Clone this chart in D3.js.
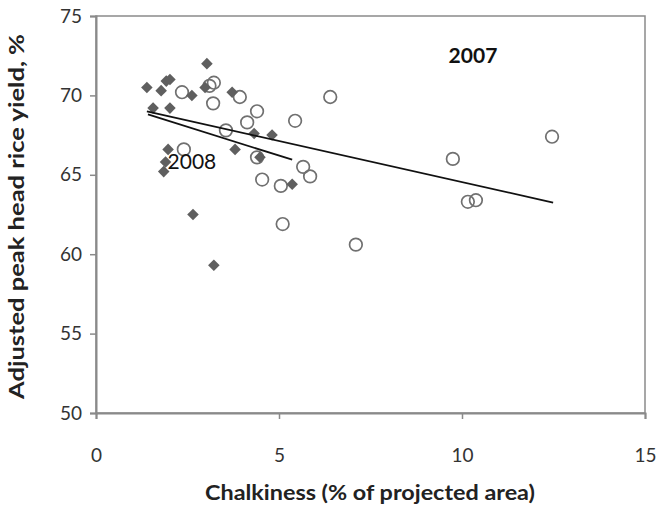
<!DOCTYPE html>
<html><head><meta charset="utf-8">
<script src="https://cdn.jsdelivr.net/npm/d3@7"></script>
<style>body{margin:0;background:#fff;} svg{display:block;}</style>
</head><body>
<script>
// 2008 (filled diamonds): chalkiness %, yield %
const x2008 = [1.39, 1.78, 1.92, 2.02, 3.03, 2.98, 3.72, 2.62, 1.56, 2.02, 1.97, 1.90, 1.85, 4.32, 4.81, 3.80, 4.48, 5.36, 2.65, 3.22];
const y2008 = [70.5, 70.3, 70.9, 71.0, 72.0, 70.5, 70.2, 70.0, 69.2, 69.2, 66.6, 65.8, 65.2, 67.6, 67.5, 66.6, 66.1, 64.4, 62.5, 59.3];
// 2007 (open circles)
const x2007 = [2.35, 3.10, 3.22, 3.20, 3.93, 4.40, 4.13, 5.44, 3.55, 2.40, 4.40, 5.66, 5.85, 4.54, 5.05, 5.10, 7.10, 6.40, 9.75, 10.16, 10.38, 12.46];
const y2007 = [70.2, 70.6, 70.8, 69.5, 69.9, 69.0, 68.3, 68.4, 67.8, 66.6, 66.1, 65.5, 64.9, 64.7, 64.3, 61.9, 60.6, 69.9, 66.0, 63.3, 63.4, 67.4];
// trend lines (endpoints)
const trend2007X = [1.39, 12.49], trend2007Y = [69.0, 63.25];
const trend2008X = [1.42, 5.36], trend2008Y = [68.8, 65.95];
const xTicks = [0, 5, 10, 15];
const yTicks = [50, 55, 60, 65, 70, 75];
const seriesLabels = [{text:"2007", x:10.3, y:72.5, bold:true}, {text:"2008", x:2.62, y:65.8, bold:false}];

const W = 660, H = 506;
const m = {l:96, r:15, t:16, b:93};
const svg = d3.select("body").append("svg").attr("width", W).attr("height", H);
const x = d3.scaleLinear().domain([0, 15]).range([m.l, W - m.r]);
const y = d3.scaleLinear().domain([50, 75]).range([H - m.b, m.t]);
const font = "Lato, 'Open Sans', sans-serif";

// plot border
svg.append("rect").attr("x", x(0)).attr("y", y(75)).attr("width", x(15)-x(0)).attr("height", y(50)-y(75))
  .attr("fill", "none").attr("stroke", "#8a8a8a").attr("stroke-width", 1.5);

const ax = svg.append("g").attr("transform", `translate(0,${y(50)})`)
  .call(d3.axisBottom(x).tickValues(xTicks).tickSize(6).tickPadding(30));
const ay = svg.append("g").attr("transform", `translate(${x(0)},0)`)
  .call(d3.axisLeft(y).tickValues(yTicks).tickSize(6).tickPadding(8));
[ax, ay].forEach(g => {
  g.select(".domain").attr("stroke", "#8a8a8a").attr("stroke-width", 2);
  g.selectAll(".tick line").attr("stroke", "#8a8a8a").attr("stroke-width", 1.5);
  g.selectAll(".tick text").attr("font-family", font).attr("font-size", 19).attr("fill", "#333");
});

// axis titles
svg.append("text").attr("x", 370).attr("y", 500).attr("text-anchor", "middle")
  .attr("font-family", font).attr("font-weight", "bold").attr("font-size", 21).attr("fill", "#222")
  .attr("textLength", 330).attr("lengthAdjust", "spacingAndGlyphs")
  .text("Chalkiness (% of projected area)");
svg.append("text").attr("transform", `translate(24,${(y(50)+y(75))/2 + 2}) rotate(-90)`).attr("text-anchor", "middle")
  .attr("font-family", font).attr("font-weight", "bold").attr("font-size", 21).attr("fill", "#222")
  .attr("textLength", 365).attr("lengthAdjust", "spacingAndGlyphs")
  .text("Adjusted peak head rice yield, %");

// 2007 circles
const d07 = x2007.map((v, i) => ({x: v, y: y2007[i]}));
svg.append("g").selectAll("circle").data(d07).enter().append("circle")
  .attr("cx", d => x(d.x)).attr("cy", d => y(d.y)).attr("r", 6.3)
  .attr("fill", "none").attr("stroke", "#707070").attr("stroke-width", 1.7);

// 2008 diamonds
const d08 = x2008.map((v, i) => ({x: v, y: y2008[i]}));
svg.append("g").selectAll("path").data(d08).enter().append("path")
  .attr("d", d3.symbol().type(d3.symbolDiamond2).size(85))
  .attr("transform", d => `translate(${x(d.x)},${y(d.y)})`)
  .attr("fill", "#5f5f5f");

// trend lines
const line = d3.line().x(d => x(d[0])).y(d => y(d[1]));
svg.append("path").attr("d", line(trend2007X.map((v,i)=>[v, trend2007Y[i]])))
  .attr("stroke", "#111").attr("stroke-width", 1.8).attr("fill", "none");
svg.append("path").attr("d", line(trend2008X.map((v,i)=>[v, trend2008Y[i]])))
  .attr("stroke", "#111").attr("stroke-width", 1.8).attr("fill", "none");

// series labels
svg.append("g").selectAll("text").data(seriesLabels).enter().append("text")
  .attr("x", d => x(d.x)).attr("y", d => y(d.y)).attr("text-anchor", "middle").attr("dy", "0.35em")
  .attr("font-family", font).attr("font-size", 21).attr("font-weight", d => d.bold ? "bold" : "normal")
  .attr("fill", "#111").text(d => d.text);
</script>
</body></html>
